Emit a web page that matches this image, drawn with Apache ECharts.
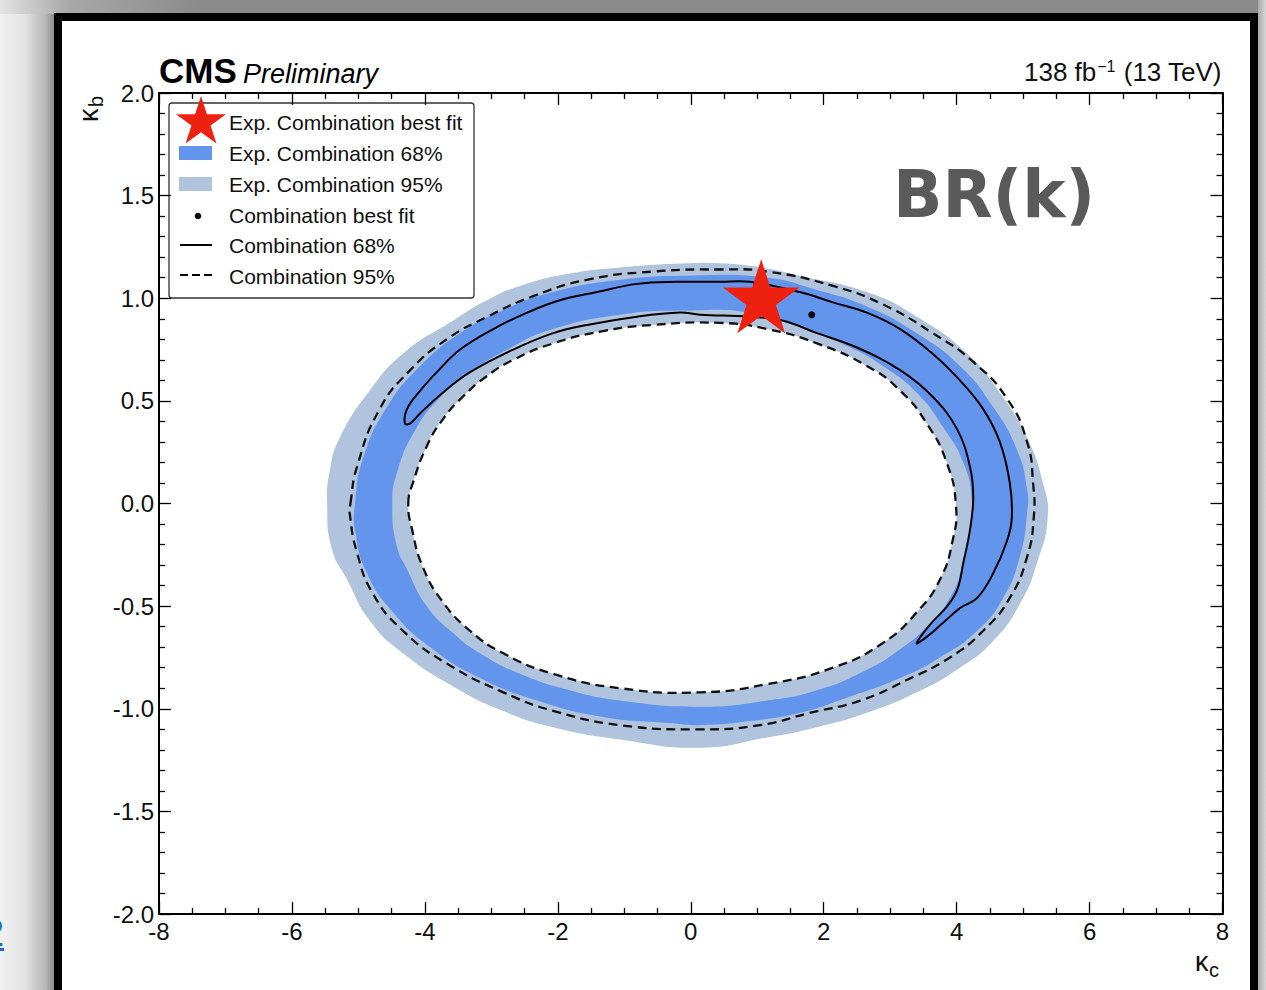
<!DOCTYPE html>
<html>
<head>
<meta charset="utf-8">
<script src="https://cdn.jsdelivr.net/npm/echarts@6/dist/echarts.min.js"></script>
<style>
html,body{margin:0;padding:0;width:1266px;height:990px;overflow:hidden;}
body{position:relative;background:#cfcfcf;}
#bgTop{position:absolute;left:0;top:0;width:1266px;height:14px;background:linear-gradient(to right,#e4e4e4 0px,#a8a8a8 70px,#8a8a8a 200px,#8a8a8a 1266px);}
#bgLeft{position:absolute;left:0;top:14px;width:54px;height:976px;background:linear-gradient(to right,#f1f1f1 0px,#e2e2e2 25px,#b5b5b5 46px,#8e8e8e 54px);}
#bgRight{position:absolute;left:1258px;top:0;width:8px;height:990px;background:linear-gradient(to right,#a9a9a9,#d6d6d6);}
#frame{position:absolute;left:54px;top:13px;width:1204px;height:1000px;box-sizing:border-box;border:8px solid #000;border-bottom:none;background:#fff;}
#link{position:absolute;left:-17px;top:912px;font:38px "Liberation Sans",Arial,sans-serif;color:#1c6fc4;text-decoration:underline;}
#chart{position:absolute;left:0;top:0;width:1266px;height:990px;}
</style>
</head>
<body>
<div id="bgTop"></div>
<div id="bgLeft"></div>
<div id="bgRight"></div>
<div id="frame"></div>
<div id="link">2</div>
<div id="chart"></div>
<script>
// ---------------- data (kappa_c, kappa_b) ----------------
const xRange = [-8, 8];
const yRange = [-2, 2];

// Expected combination, 95% region: outer and inner boundaries
const exp95Outer = [
  [-5.47, 0.00], [-5.43, 0.16], [-5.28, 0.32], [-4.83, 0.55], [-4.33, 0.73],
  [-3.58, 0.89], [-3.07, 0.99], [-2.57, 1.06], [-1.82, 1.12], [-1.06, 1.15],
  [-0.06, 1.17], [0.44, 1.17], [1.05, 1.15], [1.64, 1.11], [2.65, 1.03],
  [3.40, 0.91], [4.16, 0.73], [4.65, 0.54], [5.06, 0.32], [5.30, 0.10],
  [5.37, -0.07], [5.21, -0.29], [4.95, -0.49], [4.55, -0.67], [4.05, -0.80],
  [3.40, -0.92], [2.65, -1.02], [1.90, -1.09], [1.15, -1.14], [0.14, -1.19],
  [-1.06, -1.15], [-2.07, -1.09], [-2.83, -1.01], [-3.58, -0.89], [-4.33, -0.73],
  [-4.83, -0.57], [-5.17, -0.37], [-5.40, -0.22]
];
const exp95Inner = [
  [-4.25, 0.00], [-4.18, 0.10], [-3.97, 0.28], [-3.73, 0.41], [-3.43, 0.52],
  [-3.07, 0.62], [-2.67, 0.70], [-2.07, 0.78], [-1.32, 0.84], [-0.57, 0.87],
  [0.44, 0.88], [1.15, 0.85], [1.90, 0.78], [2.65, 0.67], [3.15, 0.55],
  [3.55, 0.39], [3.85, 0.20], [3.99, -0.01], [3.94, -0.18], [3.75, -0.37],
  [3.40, -0.53], [2.89, -0.68], [2.14, -0.80], [1.15, -0.88], [0.14, -0.92],
  [-1.06, -0.90], [-2.07, -0.83], [-2.82, -0.73], [-3.32, -0.62], [-3.73, -0.48],
  [-4.03, -0.31], [-4.19, -0.13]
];
// Expected combination, 68% region: outer and inner boundaries
const exp68Outer = [
  [-5.05, 0.00], [-4.93, 0.22], [-4.57, 0.47], [-4.07, 0.67], [-3.47, 0.83],
  [-2.83, 0.94], [-2.07, 1.03], [-1.06, 1.09], [-0.06, 1.11], [1.15, 1.10],
  [1.90, 1.04], [2.65, 0.96], [3.40, 0.83], [4.05, 0.67], [4.55, 0.47],
  [4.91, 0.26], [5.06, 0.07], [5.06, -0.05], [4.95, -0.26], [4.70, -0.46],
  [4.31, -0.62], [3.75, -0.75], [3.15, -0.85], [2.40, -0.94], [1.64, -1.02],
  [0.89, -1.06], [0.14, -1.08], [-0.31, -1.07], [-1.32, -1.04], [-2.31, -0.96],
  [-3.17, -0.85], [-3.92, -0.70], [-4.48, -0.53], [-4.87, -0.34], [-5.05, -0.13]
];
const exp68Inner = [
  [-4.49, 0.00], [-4.41, 0.16], [-4.14, 0.36], [-3.79, 0.51], [-3.36, 0.63],
  [-2.76, 0.75], [-2.07, 0.85], [-1.06, 0.92], [-0.06, 0.94], [0.89, 0.93],
  [1.64, 0.86], [2.40, 0.76], [2.89, 0.67], [3.40, 0.54], [3.80, 0.37],
  [4.10, 0.20], [4.23, 0.02], [4.20, -0.13], [4.10, -0.29], [3.90, -0.46],
  [3.55, -0.60], [3.15, -0.71], [2.65, -0.81], [1.90, -0.91], [1.15, -0.96],
  [0.14, -0.99], [-1.06, -0.96], [-1.82, -0.91], [-2.57, -0.83], [-3.17, -0.73],
  [-3.58, -0.63], [-3.97, -0.50], [-4.27, -0.32], [-4.42, -0.21]
];
// Observed combination 95% contour (dashed): outer and inner loops
const comb95Outer = [
  [-5.12, 0.00], [-5.02, 0.18], [-4.68, 0.46], [-4.22, 0.65], [-3.67, 0.80],
  [-3.06, 0.91], [-2.37, 1.01], [-1.56, 1.09], [-0.57, 1.13], [0.44, 1.14],
  [1.15, 1.13], [2.14, 1.06], [2.89, 0.97], [3.64, 0.83], [4.25, 0.69],
  [4.76, 0.51], [5.06, 0.30], [5.15, 0.10], [5.16, -0.07], [5.06, -0.26],
  [4.80, -0.46], [4.40, -0.62], [3.90, -0.75], [3.25, -0.86], [2.55, -0.96],
  [1.79, -1.02], [1.04, -1.08], [0.14, -1.10], [-1.06, -1.08], [-2.07, -1.01],
  [-2.82, -0.92], [-3.67, -0.78], [-4.33, -0.62], [-4.78, -0.44], [-5.02, -0.24],
  [-5.13, -0.05]
];
const comb95Inner = exp95Inner;
// Observed combination 68% contour (solid): crescent-shaped closed loop
const comb68 = [
  [-4.30, 0.39], [-4.27, 0.46], [-4.07, 0.55], [-3.82, 0.64], [-3.47, 0.75],
  [-2.97, 0.85], [-2.46, 0.93], [-1.97, 0.99], [-1.41, 1.03], [-0.81, 1.07],
  [-0.21, 1.08], [0.44, 1.08], [0.89, 1.08], [1.64, 1.03], [2.14, 0.98],
  [2.65, 0.93], [3.15, 0.85], [3.64, 0.73], [4.05, 0.60], [4.40, 0.46],
  [4.65, 0.30], [4.80, 0.10], [4.83, -0.07], [4.76, -0.18], [4.55, -0.34],
  [4.31, -0.46], [4.05, -0.51], [3.80, -0.58], [3.55, -0.65], [3.40, -0.68],
  [3.60, -0.59], [3.86, -0.50], [4.01, -0.42], [4.10, -0.29], [4.20, -0.13],
  [4.25, 0.03], [4.20, 0.18], [4.01, 0.36], [3.64, 0.52], [3.15, 0.65],
  [2.50, 0.76], [1.90, 0.83], [1.39, 0.89], [0.89, 0.91], [0.14, 0.92],
  [-0.16, 0.93], [-0.81, 0.91], [-1.56, 0.87], [-2.07, 0.83], [-2.67, 0.75],
  [-3.32, 0.64], [-3.73, 0.54], [-4.07, 0.44], [-4.22, 0.39]
];
const expBestFit = [1.06, 1.01];
const combBestFit = [1.82, 0.92];

const legendLabels = [
  'Exp. Combination best fit', 'Exp. Combination 68%', 'Exp. Combination 95%',
  'Combination best fit', 'Combination 68%', 'Combination 95%'
];

// ---------------- styling ----------------
const FONT = '"Liberation Sans", Arial, Helvetica, sans-serif';
const C68 = '#6495ed';
const C95 = '#b0c4de';
const RED = '#ee2010';
const STAR = 'path://M0,-50L11.23,-15.45L47.55,-15.45L18.17,5.9L29.39,40.45L0,19.1L-29.39,40.45L-18.17,5.9L-47.55,-15.45L-11.23,-15.45Z';

function polySeries(name, pts, style, smooth, z) {
  return {
    type: 'custom', name: name, coordinateSystem: 'cartesian2d',
    xAxisIndex: 0, yAxisIndex: 0, silent: true, z: z,
    data: pts, encode: {x: 0, y: 1},
    renderItem: function (params, api) {
      if (params.dataIndex !== 0) return null;
      return {
        type: 'polygon',
        shape: {points: pts.map(function (p) { return api.coord(p); }), smooth: smooth},
        style: style
      };
    }
  };
}

function starPoints(cx, cy, R) {
  const pts = [];
  for (let i = 0; i < 10; i++) {
    const r = i % 2 === 0 ? R : R * 0.382;
    const a = -Math.PI / 2 + i * Math.PI / 5;
    pts.push([cx + r * Math.cos(a), cy + r * Math.sin(a)]);
  }
  return pts;
}

const tickStyle = {color: '#000', width: 1.3};
function makeAxis(extra, range, interval, minorSplit, showLabel) {
  return Object.assign({
    type: 'value', min: range[0], max: range[1], interval: interval,
    axisLine: {show: true, onZero: false, lineStyle: {color: '#000', width: 2}},
    axisTick: {show: true, inside: true, length: 12, lineStyle: tickStyle},
    minorTick: {show: true, splitNumber: minorSplit, length: 6, lineStyle: tickStyle},
    splitLine: {show: false}, minorSplitLine: {show: false},
    axisLabel: {show: showLabel}
  }, extra);
}

// measure text widths so the luminosity label can be right-aligned with a superscript
const mctx = document.createElement('canvas').getContext('2d');
function textW(str, size) { mctx.font = size + 'px "Liberation Sans", Arial, sans-serif'; return mctx.measureText(str).width; }
const lumiA = '138 fb', lumiS = '\u22121', lumiB = ' (13 TeV)';
const lumiSize = 26, lumiSupSize = 16;
const xB = 1222 - textW(lumiB, lumiSize);
const xS = xB - textW(lumiS, lumiSupSize) - 1;
const xA = xS - textW(lumiA, lumiSize) - 1;

const legendY = [122, 153, 184, 215, 245, 276];
const legendGraphic = [
  {type: 'rect', shape: {x: 169, y: 103, width: 305, height: 195, r: 3},
   style: {fill: '#fff', stroke: '#333', lineWidth: 1.3}},
  {type: 'polygon', shape: {points: starPoints(201, 122.3, 26.3)}, style: {fill: RED}},
  {type: 'rect', shape: {x: 179, y: 146, width: 33, height: 14}, style: {fill: C68}},
  {type: 'rect', shape: {x: 179, y: 177, width: 33, height: 14}, style: {fill: C95}},
  {type: 'circle', shape: {cx: 198, cy: 216, r: 3.3}, style: {fill: '#000'}},
  {type: 'line', shape: {x1: 180, y1: 245, x2: 212, y2: 245}, style: {stroke: '#000', lineWidth: 2}},
  {type: 'line', shape: {x1: 180, y1: 275, x2: 212, y2: 275}, style: {stroke: '#000', lineWidth: 2, lineDash: [8, 4]}}
];
legendLabels.forEach(function (t, i) {
  legendGraphic.push({type: 'text', x: 229, y: legendY[i],
    style: {text: t, fontFamily: FONT, fontSize: 21, fill: '#111', align: 'left', verticalAlign: 'middle'}});
});

const textGraphic = [
  {type: 'text', x: 159, y: 70.5, style: {text: 'CMS', fontFamily: FONT, fontSize: 35, fontWeight: 'bold', fill: '#000', align: 'left', verticalAlign: 'middle'}},
  {type: 'text', x: 243, y: 74, style: {text: 'Preliminary', fontFamily: FONT, fontSize: 27, fontStyle: 'italic', fill: '#000', align: 'left', verticalAlign: 'middle'}},
  {type: 'text', x: xA, y: 72, style: {text: lumiA, fontFamily: FONT, fontSize: lumiSize, fill: '#111', align: 'left', verticalAlign: 'middle'}},
  {type: 'text', x: xS, y: 66, style: {text: lumiS, fontFamily: FONT, fontSize: lumiSupSize, fill: '#111', align: 'left', verticalAlign: 'middle'}},
  {type: 'text', x: xB, y: 72, style: {text: lumiB, fontFamily: FONT, fontSize: lumiSize, fill: '#111', align: 'left', verticalAlign: 'middle'}},
  {type: 'text', x: 893, y: 194, style: {text: 'BR(k)', fontFamily: '"DejaVu Sans", Verdana, sans-serif', fontSize: 65, fontWeight: 'bold', fill: '#5a5a5a', align: 'left', verticalAlign: 'middle'}},
  // axis titles
  {type: 'text', x: 1195, y: 962, style: {text: '\u03ba', fontFamily: FONT, fontSize: 27, fill: '#111', align: 'left', verticalAlign: 'middle'}},
  {type: 'text', x: 1209, y: 970, style: {text: 'c', fontFamily: FONT, fontSize: 20, fill: '#111', align: 'left', verticalAlign: 'middle'}},
  {type: 'text', x: 89, y: 122, rotation: Math.PI / 2, style: {text: '\u03ba', fontFamily: FONT, fontSize: 27, fill: '#111', align: 'left', verticalAlign: 'middle'}},
  {type: 'text', x: 96, y: 107, rotation: Math.PI / 2, style: {text: 'b', fontFamily: FONT, fontSize: 20, fill: '#111', align: 'left', verticalAlign: 'middle'}}
];

const option = {
  animation: false,
  backgroundColor: 'transparent',
  grid: {left: 159, right: 43.5, top: 93, bottom: 76, containLabel: false, outerBoundsMode: 'none'},
  xAxis: [
    makeAxis({position: 'bottom', axisLabel: {show: true, fontFamily: FONT, fontSize: 24, color: '#111', margin: 5}}, xRange, 2, 4, true),
    makeAxis({position: 'top'}, xRange, 2, 4, false)
  ],
  yAxis: [
    makeAxis({position: 'left', axisLabel: {show: true, fontFamily: FONT, fontSize: 24, color: '#111', margin: 5,
      formatter: function (v) { return v.toFixed(1); }}}, yRange, 0.5, 5, true),
    makeAxis({position: 'right'}, yRange, 0.5, 5, false)
  ],
  series: [
    polySeries('Exp. Combination 95%', exp95Outer, {fill: C95}, 0.5, 1),
    polySeries('Exp. Combination 68%', exp68Outer, {fill: C68}, 0.5, 1),
    polySeries('Exp. Combination 68% inner', exp68Inner, {fill: C95}, 0.5, 1),
    polySeries('Exp. Combination 95% inner', exp95Inner, {fill: '#fff'}, 0.5, 1),
    polySeries('Combination 95%', comb95Outer, {fill: 'none', stroke: '#111', lineWidth: 2.3, lineDash: [9, 5.5]}, 0.5, 3),
    polySeries('Combination 95% inner', comb95Inner, {fill: 'none', stroke: '#111', lineWidth: 2.3, lineDash: [9, 5.5]}, 0.5, 3),
    polySeries('Combination 68%', comb68, {fill: 'none', stroke: '#000', lineWidth: 2}, 0.4, 3),
    {type: 'scatter', name: 'Combination best fit', data: [combBestFit], symbol: 'circle', symbolSize: 7,
     itemStyle: {color: '#000', opacity: 1}, silent: true, z: 5},
    {type: 'scatter', name: 'Exp. Combination best fit', data: [expBestFit], symbol: STAR, symbolSize: [77, 74],
     itemStyle: {color: RED, opacity: 1}, silent: true, z: 6}
  ],
  graphic: [{type: 'group', z: 100, children: legendGraphic.concat(textGraphic)}]
};

const chart = echarts.init(document.getElementById('chart'), null, {renderer: 'svg', width: 1266, height: 990});
chart.setOption(option);
</script>
</body>
</html>
